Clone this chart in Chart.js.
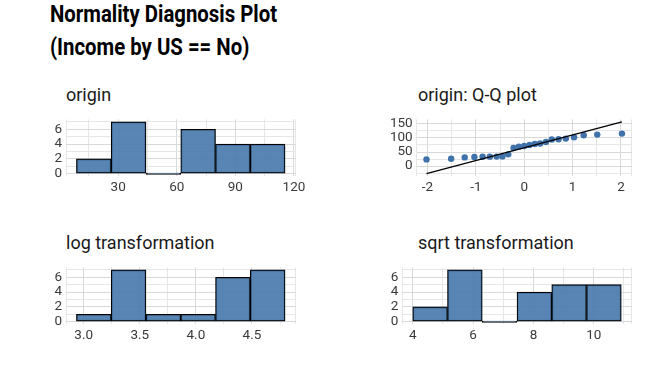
<!DOCTYPE html>
<html><head><meta charset="utf-8">
<script src="https://cdn.jsdelivr.net/npm/chart.js@4/dist/chart.umd.min.js"></script>
<style>
html,body{margin:0;padding:0;background:#fff;}
body{width:672px;height:384px;position:relative;overflow:hidden;font-family:Roboto,'DejaVu Sans',sans-serif;}
.mt{position:absolute;left:50px;font-weight:700;font-size:23px;line-height:23px;color:#000;white-space:nowrap;transform-origin:0 0;transform:scaleX(0.885);}
.pt{position:absolute;font-size:18px;line-height:18px;color:#1a1a1a;white-space:nowrap;}
canvas{position:absolute;}
</style></head><body>
<div class="mt" style="top:3px">Normality Diagnosis Plot</div>
<div class="mt" style="top:36px">(Income by US == No)</div>
<div class="pt" style="left:66px;top:85.5px">origin</div>
<div class="pt" style="left:418px;top:85.5px">origin: Q-Q plot</div>
<div class="pt" style="left:66px;top:233.5px">log transformation</div>
<div class="pt" style="left:418px;top:233.5px">sqrt transformation</div>
<canvas id="cOrigin" width="336" height="97" style="left:0;top:100px"></canvas>
<canvas id="cQQ" width="336" height="97" style="left:336px;top:100px"></canvas>
<canvas id="cLog" width="336" height="97" style="left:0;top:248px"></canvas>
<canvas id="cSqrt" width="336" height="97" style="left:336px;top:248px"></canvas>
<script>
// ---------------- data ----------------
const originBinMid = [17.55, 35.35, 53.15, 70.95, 88.75, 106.55];
const originCounts = [2, 7, 0, 6, 4, 4];
const originXLabels = [30, 60, 90, 120];

const logBinMid = [3.09, 3.40, 3.71, 4.02, 4.33, 4.64];
const logCounts = [1, 7, 1, 1, 6, 7];
const logXLabels = [3.0, 3.5, 4.0, 4.5];

const sqrtBinMid = [4.576, 5.728, 6.879, 8.031, 9.182, 10.334];
const sqrtCounts = [2, 7, 0, 4, 5, 5];
const sqrtXLabels = [4, 6, 8, 10];

const histYLabels = [0, 2, 4, 6];

const qqTheoretical = [-2.02, -1.51, -1.23, -1.03, -0.86, -0.71, -0.57, -0.45, -0.33, -0.22, -0.11, 0,
                       0.11, 0.22, 0.33, 0.45, 0.57, 0.71, 0.86, 1.03, 1.23, 1.51, 2.02];
const qqSample = [23.8, 26.2, 31, 32.5, 33.3, 33.5, 33.8, 34.5, 41.7, 64.3, 69, 71.4,
                  75, 78.6, 80.5, 85.7, 94.5, 95.2, 97.6, 102.4, 109.5, 111.9, 115.5];
const qqLineX = [-2.02, 2.02];
const qqLineY = [-27, 157];
const qqXLabels = [-2, -1, 0, 1, 2];
const qqYLabels = [0, 50, 100, 150];

// ---------------- styling ----------------
const BAR_FILL = 'rgba(70,120,172,0.9)';
const POINT_FILL = '#3f72aa';
const GRID_MAJOR = '#d9d9d9';
const GRID_MINOR = '#e6e6e6';
const TICK_COLOR = '#3a3a3a';
const TICK_FONT = {family: "Roboto, 'DejaVu Sans', sans-serif", size: 13.5};

function expand(lo, hi) { const p = 0.05 * (hi - lo); return [lo - p, hi + p]; }
function gridValues(labels, lo, hi, bounds) {
  const step = (labels[1] - labels[0]) / 2;
  const vals = [];
  for (let k = -3; k <= (labels.length - 1) * 2 + 3; k++) {
    const v = +(labels[0] + k * step).toFixed(6);
    if (v >= lo - 1e-9 && v <= hi + 1e-9) vals.push(v);
  }
  if (bounds) { vals.unshift(lo); vals.push(hi); }
  return vals;
}
function isLabel(labels, v) { return labels.some(l => Math.abs(l - v) < 1e-6); }

function axis(labels, lo, hi, bounds, fmt, isX, fitSize) {
  const vals = gridValues(labels, lo, hi, bounds);
  return {
    type: 'linear', min: lo, max: hi, offset: false,
    border: {display: false},
    grid: {offset: false, drawTicks: false, lineWidth: 1,
      color: c => isLabel(labels, c.tick.value) ? GRID_MAJOR : GRID_MINOR},
    ticks: {autoSkip: false, maxRotation: 0, minRotation: 0, color: TICK_COLOR, font: TICK_FONT,
      padding: isX ? 3 : 4,
      callback: v => isLabel(labels, v) ? fmt(v) : ''},
    afterBuildTicks: s => { s.ticks = vals.map(v => ({value: v})); },
    afterFit: s => { if (isX) s.height = fitSize; else s.width = fitSize; }
  };
}

function histogram(id, mids, counts, xLabels, fmt, yAxisWidth, padRight) {
  const w = mids[1] - mids[0];
  const [xlo, xhi] = expand(mids[0] - w / 2, mids[mids.length - 1] + w / 2);
  const maxC = Math.max(...counts);
  const [ylo, yhi] = expand(0, maxC);
  new Chart(document.getElementById(id), {
    type: 'bar',
    data: {datasets: [{
      data: mids.map((m, i) => ({x: m, y: counts[i]})),
      backgroundColor: BAR_FILL, borderColor: '#000', borderWidth: 1.2, borderSkipped: false,
      barThickness: 'flex', barPercentage: 1, categoryPercentage: 1, minBarLength: 1.5
    }]},
    options: {
      responsive: false, animation: false, events: [],
      layout: {padding: {top: 19.3, right: padRight, left: 0, bottom: 0}},
      plugins: {legend: {display: false}, tooltip: {enabled: false}, title: {display: false}},
      scales: {
        x: axis(xLabels, xlo, xhi, true, fmt, true, 20.7),
        y: axis(histYLabels, ylo, yhi, false, v => String(v), false, yAxisWidth)
      }
    }
  });
}

histogram('cOrigin', originBinMid, originCounts, originXLabels, v => String(v), 66, 40.5);
histogram('cLog', logBinMid, logCounts, logXLabels, v => v.toFixed(1), 66, 40.5);
histogram('cSqrt', sqrtBinMid, sqrtCounts, sqrtXLabels, v => String(v), 66.3, 40.3);

(function qq() {
  const [xlo, xhi] = expand(Math.min(...qqTheoretical), Math.max(...qqTheoretical));
  const [ylo, yhi] = expand(Math.min(...qqLineY, ...qqSample), Math.max(...qqLineY, ...qqSample));
  new Chart(document.getElementById('cQQ'), {
    type: 'scatter',
    data: {datasets: [
      {type: 'line', data: qqLineX.map((x, i) => ({x, y: qqLineY[i]})), borderColor: '#000',
       borderWidth: 1.3, pointRadius: 0, fill: false, showLine: true},
      {data: qqTheoretical.map((x, i) => ({x, y: qqSample[i]})), backgroundColor: POINT_FILL,
       borderWidth: 0, pointRadius: 3.2}
    ]},
    options: {
      responsive: false, animation: false, events: [],
      layout: {padding: {top: 19.3, right: 40.3, left: 0, bottom: 0}},
      plugins: {legend: {display: false}, tooltip: {enabled: false}},
      scales: {
        x: axis(qqXLabels, xlo, xhi, true, v => String(v), true, 20.7),
        y: axis(qqYLabels, ylo, yhi, false, v => String(v), false, 80.7)
      }
    }
  });
})();
</script>
</body></html>
